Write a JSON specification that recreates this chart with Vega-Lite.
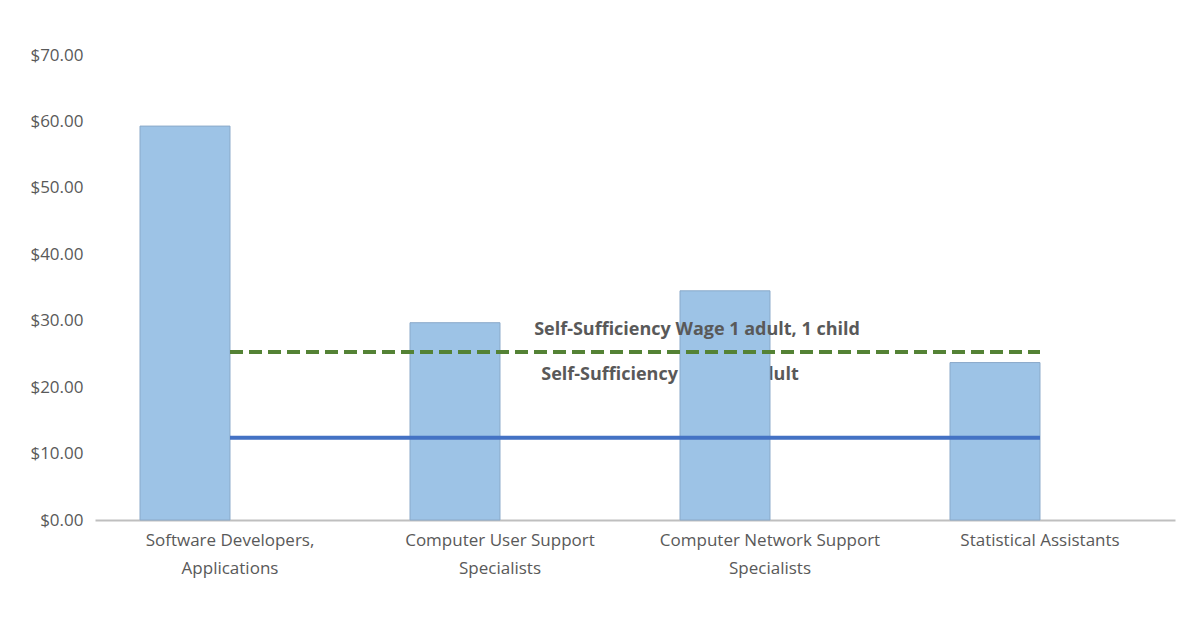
{
  "$schema": "https://vega.github.io/schema/vega-lite/v6.json",
  "width": 1080,
  "height": 465,
  "autosize": {"type": "none"},
  "padding": {"left": 95, "top": 55, "right": 4, "bottom": 114},
  "background": "white",
  "config": {
    "view": {"stroke": null},
    "font": "Open Sans"
  },
  "datasets": {
    "wages": [
      {"occupation": "Software Developers, Applications", "wage": 59.3},
      {"occupation": "Computer User Support Specialists", "wage": 29.7},
      {"occupation": "Computer Network Support Specialists", "wage": 34.5},
      {"occupation": "Statistical Assistants", "wage": 23.7}
    ],
    "thresholds": [
      {"occupation": "Software Developers, Applications", "series": "Self-Sufficiency Wage 1 adult, 1 child", "value": 25.3},
      {"occupation": "Computer User Support Specialists", "series": "Self-Sufficiency Wage 1 adult, 1 child", "value": 25.3},
      {"occupation": "Computer Network Support Specialists", "series": "Self-Sufficiency Wage 1 adult, 1 child", "value": 25.3},
      {"occupation": "Statistical Assistants", "series": "Self-Sufficiency Wage 1 adult, 1 child", "value": 25.3},
      {"occupation": "Software Developers, Applications", "series": "Self-Sufficiency Wage 1 adult", "value": 12.4},
      {"occupation": "Computer User Support Specialists", "series": "Self-Sufficiency Wage 1 adult", "value": 12.4},
      {"occupation": "Computer Network Support Specialists", "series": "Self-Sufficiency Wage 1 adult", "value": 12.4},
      {"occupation": "Statistical Assistants", "series": "Self-Sufficiency Wage 1 adult", "value": 12.4}
    ]
  },
  "encoding": {
    "x": {
      "field": "occupation",
      "type": "nominal",
      "sort": null,
      "scale": {"paddingInner": 0, "paddingOuter": 0, "domain": ["Software Developers, Applications", "Computer User Support Specialists", "Computer Network Support Specialists", "Statistical Assistants"]},
      "axis": {
        "title": null,
        "labelAngle": 0,
        "ticks": false,
        "domainColor": "#bfbfbf",
        "domainWidth": 2,
        "labelColor": "#595959",
        "labelFontSize": 17,
        "labelPadding": 12,
        "labelLineHeight": 28,
        "labelLimit": 300,
        "labelExpr": "datum.value == 'Software Developers, Applications' ? ['Software Developers,', 'Applications'] : datum.value == 'Computer User Support Specialists' ? ['Computer User Support', 'Specialists'] : datum.value == 'Computer Network Support Specialists' ? ['Computer Network Support', 'Specialists'] : datum.value"
      }
    }
  },
  "layer": [
    {
      "data": {"name": "thresholds"},
      "transform": [
        {"filter": "datum.series == 'Self-Sufficiency Wage 1 adult' && datum.occupation == 'Computer Network Support Specialists'"}
      ],
      "mark": {"type": "text", "fontWeight": "bold", "fontSize": 18, "color": "#595959", "dx": -100, "dy": -63, "align": "center", "baseline": "middle"},
      "encoding": {
        "y": {"field": "value", "type": "quantitative"},
        "text": {"field": "series"}
      }
    },
    {
      "data": {"name": "wages"},
      "mark": {"type": "bar", "width": {"band": 0.3333}, "xOffset": -45, "fill": "#9dc3e6", "stroke": "#8aa9c9", "strokeWidth": 1},
      "encoding": {
        "y": {
          "field": "wage",
          "type": "quantitative",
          "scale": {"domain": [0, 70]},
          "axis": {
            "title": null,
            "values": [0, 10, 20, 30, 40, 50, 60, 70],
            "format": "$.2f",
            "domain": false,
            "ticks": false,
            "grid": false,
            "labelColor": "#595959",
            "labelFontSize": 17,
            "labelPadding": 12
          }
        }
      }
    },
    {
      "data": {"name": "thresholds"},
      "mark": {"type": "line", "strokeWidth": 4},
      "encoding": {
        "y": {"field": "value", "type": "quantitative"},
        "color": {
          "field": "series",
          "type": "nominal",
          "scale": {"domain": ["Self-Sufficiency Wage 1 adult, 1 child", "Self-Sufficiency Wage 1 adult"], "range": ["#548235", "#4472c4"]},
          "legend": null
        },
        "strokeDash": {
          "field": "series",
          "type": "nominal",
          "scale": {"domain": ["Self-Sufficiency Wage 1 adult, 1 child", "Self-Sufficiency Wage 1 adult"], "range": [[13, 6], [1, 0]]},
          "legend": null
        }
      }
    },
    {
      "data": {"name": "thresholds"},
      "transform": [
        {"filter": "datum.series == 'Self-Sufficiency Wage 1 adult, 1 child' && datum.occupation == 'Computer Network Support Specialists'"}
      ],
      "mark": {"type": "text", "fontWeight": "bold", "fontSize": 18, "color": "#595959", "dx": -73, "dy": -22, "align": "center", "baseline": "middle"},
      "encoding": {
        "y": {"field": "value", "type": "quantitative"},
        "text": {"field": "series"}
      }
    }
  ]
}
